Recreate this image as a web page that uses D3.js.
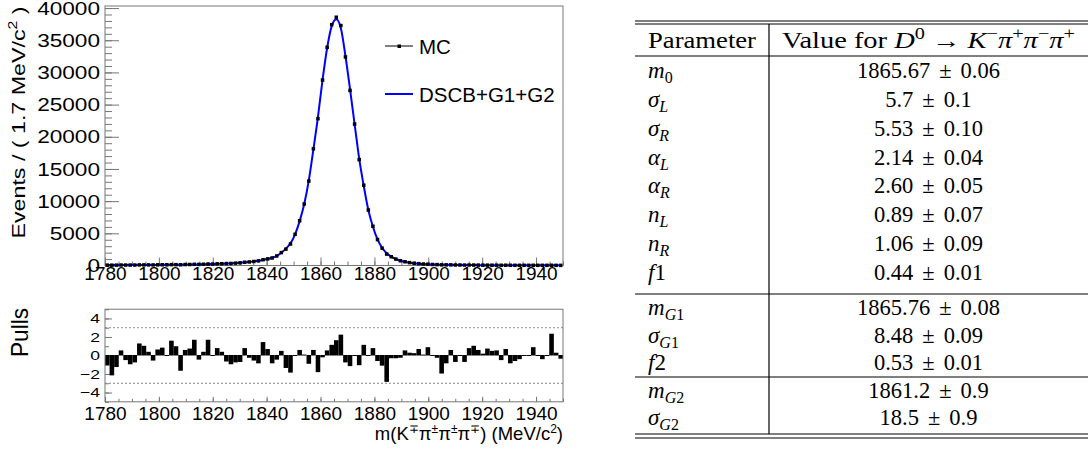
<!DOCTYPE html>
<html>
<head>
<meta charset="utf-8">
<script src="https://cdn.jsdelivr.net/npm/d3@7"></script>
<style>
body { margin: 0; background: #fff; }
svg { display: block; }
.ax text { font-family: "Liberation Sans", Arial, sans-serif; fill: #000; }
.ax line { stroke: #777; }
.ax .domain { display: none; }
.lbl { font-family: "Liberation Sans", Arial, sans-serif; fill: #000; }
.tbl text { font-family: "Liberation Serif", "Times New Roman", serif; fill: #000; }
</style>
</head>
<body>
<svg id="fig" width="1090" height="450"></svg>
<script>
// 100 bins of 1.7 MeV between 1780 and 1950
const massRange = [1780, 1950];
const binWidth = 1.7;

// MC entries per bin
const mcCounts = [
  55, 48, 57, 75, 68, 67, 72, 94, 96, 94,
  88, 105, 113, 111, 133, 134, 112, 147, 159, 184,
  168, 196, 232, 227, 263, 282, 293, 322, 364, 414,
  508, 553, 625, 716, 902, 1022, 1169, 1481, 2002, 2548,
  3338, 4843, 6950, 9560, 13121, 18131, 22819, 28808, 33901, 37422,
  38573, 37282, 32406, 27201, 21973, 16458, 12478, 8625, 6092, 4029,
  2700, 1774, 1357, 999, 742, 583, 446, 350, 290, 230,
  202, 161, 136, 101, 100, 103, 80, 79, 66, 72,
  69, 60, 53, 54, 49, 47, 37, 43, 32, 31,
  30, 32, 30, 34, 28, 25, 26, 37, 25, 21
];

// fitted DSCB+G1+G2 value at each bin centre
const fitCurve = [
  64, 66, 68, 70, 73, 76, 79, 82, 86, 90,
  94, 99, 104, 110, 116, 123, 131, 140, 150, 162,
  175, 190, 208, 228, 250, 275, 305, 340, 380, 430,
  490, 560, 640, 740, 860, 1000, 1200, 1500, 1980, 2620,
  3450, 4850, 6900, 9550, 13230, 18050, 23100, 28850, 33800, 37200,
  38250, 36850, 32550, 27400, 21980, 16600, 12350, 8620, 6030, 4070,
  2760, 1900, 1370, 1010, 750, 570, 440, 345, 278, 228,
  190, 162, 140, 123, 109, 97, 87, 79, 72, 66,
  61, 56, 52, 49, 46, 43, 41, 39, 37, 35,
  33, 32, 30, 29, 28, 27, 26, 25, 24, 23
];

// pulls per bin
const pulls = [
  -1.1, -2.2, -1.3, 0.55, -0.55, -1.0, -0.8, 1.3, 1.05, 0.4,
  -0.6, 0.65, 0.85, 0.05, 1.6, 1.0, -1.7, 0.6, 0.75, 1.7,
  -0.5, 0.4, 1.7, -0.05, 0.8, 0.4, -0.7, -1.0, -0.8, -0.75,
  0.8, -0.3, -0.6, -0.9, 1.45, 0.7, -0.9, -0.5, 0.5, -1.4,
  -1.9, -0.1, 0.6, 0.1, -0.95, 0.6, -1.85, -0.25, 0.55, 1.15,
  1.65, 2.25, -0.8, -1.2, -0.05, -1.1, 1.15, 0.05, 0.8, -0.65,
  -1.15, -2.9, -0.35, -0.35, -0.3, 0.55, 0.3, 0.25, 0.7, 0.1,
  0.9, -0.1, -0.3, -2.0, -0.9, 0.6, -0.75, 0.05, -0.75, 0.8,
  1.05, 0.6, 0.2, 0.75, 0.5, 0.55, -0.55, 0.7, -0.9, -0.65,
  -0.45, 0.05, 0.05, 0.9, 0.05, -0.45, 0.05, 2.35, 0.3, -0.4
];

const xTicks = [1780, 1800, 1820, 1840, 1860, 1880, 1900, 1920, 1940];
const yTicks = [0, 5000, 10000, 15000, 20000, 25000, 30000, 35000, 40000];
const pullTicks = [-4, -2, 0, 2, 4];
const pullBands = [-3, 3];

// table of fit parameters
const paramSymbols = ["m", "σ", "σ", "α", "α", "n", "n", "f", "m", "σ", "f", "m", "σ"];
const paramSubs    = ["0", "L", "R", "L", "R", "L", "R", "", "G1", "G1", "", "G2", "G2"];
const paramSuffix  = ["", "", "", "", "", "", "", "1", "", "", "2", "", ""];
const paramValues  = ["1865.67", "5.7", "5.53", "2.14", "2.60", "0.89", "1.06", "0.44",
                      "1865.76", "8.48", "0.53", "1861.2", "18.5"];
const paramErrors  = ["0.06", "0.1", "0.10", "0.04", "0.05", "0.07", "0.09", "0.01",
                      "0.08", "0.09", "0.01", "0.9", "0.9"];
const paramGroups  = [8, 3, 2];

const svg = d3.select("#fig");

function stretch(sel, f) {
  sel.each(function () {
    const w = this.getComputedTextLength();
    d3.select(this).attr("textLength", w * f).attr("lengthAdjust", "spacingAndGlyphs");
  });
}

// ---------- main panel ----------
const fr = { left: 105, right: 563, top: 6, bottom: 265.5 };
const x = d3.scaleLinear().domain(massRange).range([fr.left, fr.right]);
const y = d3.scaleLinear().domain([0, 40320]).range([fr.bottom, fr.top]);
const centres = mcCounts.map((_d, i) => massRange[0] + binWidth * (i + 0.5));

// minor ticks
svg.append("g").attr("class", "ax")
  .attr("transform", `translate(${fr.left},0)`)
  .call(d3.axisLeft(y).tickValues(d3.range(0, 40001, 1000)).tickSize(-7).tickFormat(""));
svg.append("g").attr("class", "ax")
  .attr("transform", `translate(0,${fr.bottom})`)
  .call(d3.axisBottom(x).tickValues(d3.range(1780, 1951, 5)).tickSize(-4).tickFormat(""));

const gy = svg.append("g").attr("class", "ax")
  .attr("transform", `translate(${fr.left},0)`)
  .call(d3.axisLeft(y).tickValues(yTicks).tickSize(-14).tickPadding(5).tickFormat(d3.format("d")));
gy.selectAll("text").style("font-size", "19px");
stretch(gy.selectAll("text"), 1.19);

const gx = svg.append("g").attr("class", "ax")
  .attr("transform", `translate(0,${fr.bottom})`)
  .call(d3.axisBottom(x).tickValues(xTicks).tickSize(-8).tickPadding(1).tickFormat(d3.format("d")));
gx.selectAll("text").style("font-size", "19px");

svg.append("rect")
  .attr("x", fr.left).attr("y", fr.top)
  .attr("width", fr.right - fr.left).attr("height", fr.bottom - fr.top)
  .attr("fill", "none").attr("stroke", "#777").attr("stroke-width", 1);

// fit curve
svg.append("path")
  .datum(fitCurve)
  .attr("fill", "none")
  .attr("stroke", "#0000ff")
  .attr("stroke-width", 2)
  .attr("d", d3.line().x((_d, i) => x(centres[i])).y(d => y(d)).curve(d3.curveMonotoneX));

// MC points
svg.append("g").selectAll("rect")
  .data(mcCounts)
  .join("rect")
  .attr("x", (_d, i) => x(centres[i]) - 1.75)
  .attr("y", d => y(d) - 1.75)
  .attr("width", 3.5).attr("height", 3.5)
  .attr("fill", "#000");

// y title
const yt = svg.append("text").attr("class", "lbl")
  .attr("transform", "translate(25,122.5) rotate(-90)")
  .attr("text-anchor", "middle")
  .style("font-size", "19px");
yt.append("tspan").text("Events / ( 1.7 MeV/c");
yt.append("tspan").attr("dy", -8).style("font-size", "13px").text("2");
yt.append("tspan").attr("dy", 8).text(" )");
yt.attr("textLength", 232).attr("lengthAdjust", "spacingAndGlyphs");

// legend
const leg = svg.append("g");
leg.append("line").attr("x1", 385).attr("x2", 413).attr("y1", 46).attr("y2", 46)
  .attr("stroke", "#000").attr("stroke-width", 1);
leg.append("rect").attr("x", 397.5).attr("y", 44.5).attr("width", 3.5).attr("height", 3.5).attr("fill", "#000");
leg.append("text").attr("class", "lbl").attr("x", 419).attr("y", 53.5)
  .style("font-size", "20.5px").text("MC");
leg.append("line").attr("x1", 385).attr("x2", 413).attr("y1", 94).attr("y2", 94)
  .attr("stroke", "#0000ff").attr("stroke-width", 2);
leg.append("text").attr("class", "lbl").attr("x", 419).attr("y", 101.5)
  .style("font-size", "20.5px").text("DSCB+G1+G2");

// ---------- pull panel ----------
const pf = { top: 309.2, bottom: 401.8 };
const yP = d3.scaleLinear().domain([-5, 5]).range([pf.bottom, pf.top]);

svg.append("g").attr("class", "ax")
  .attr("transform", `translate(${fr.left},0)`)
  .call(d3.axisLeft(yP).tickValues(d3.range(-5, 5.01, 1)).tickSize(-4).tickFormat(""));
svg.append("g").attr("class", "ax")
  .attr("transform", `translate(0,${pf.bottom})`)
  .call(d3.axisBottom(x).tickValues(d3.range(1780, 1951, 5)).tickSize(-3).tickFormat(""));

const gpy = svg.append("g").attr("class", "ax")
  .attr("transform", `translate(${fr.left},0)`)
  .call(d3.axisLeft(yP).tickValues(pullTicks).tickSize(-7).tickPadding(5));
gpy.selectAll("text").style("font-size", "13px");
stretch(gpy.selectAll("text"), 1.35);

const gpx = svg.append("g").attr("class", "ax")
  .attr("transform", `translate(0,${pf.bottom})`)
  .call(d3.axisBottom(x).tickValues(xTicks).tickSize(-5).tickPadding(5).tickFormat(d3.format("d")));
gpx.selectAll("text").style("font-size", "19px");

svg.append("g").selectAll("line")
  .data(pullBands)
  .join("line")
  .attr("x1", fr.left).attr("x2", fr.right)
  .attr("y1", d => yP(d)).attr("y2", d => yP(d))
  .attr("stroke", "#888").attr("stroke-width", 1).attr("stroke-dasharray", "2,2");

svg.append("g").selectAll("rect")
  .data(pulls)
  .join("rect")
  .attr("x", (_d, i) => x(massRange[0] + binWidth * i))
  .attr("width", x(massRange[0] + binWidth) - x(massRange[0]))
  .attr("y", d => Math.min(yP(Math.max(0, d)), yP(0) - 0.5))
  .attr("height", d => Math.max(1, Math.abs(yP(d) - yP(0))))
  .attr("fill", "#000");

svg.append("rect")
  .attr("x", fr.left).attr("y", pf.top)
  .attr("width", fr.right - fr.left).attr("height", pf.bottom - pf.top)
  .attr("fill", "none").attr("stroke", "#777").attr("stroke-width", 1);

svg.append("text").attr("class", "lbl")
  .attr("transform", "translate(28,332.5) rotate(-90)")
  .attr("text-anchor", "middle")
  .style("font-size", "24px")
  .attr("textLength", 49).attr("lengthAdjust", "spacingAndGlyphs")
  .text("Pulls");

// x title
const xt = svg.append("text").attr("class", "lbl")
  .attr("x", fr.right).attr("y", 440)
  .attr("text-anchor", "end")
  .style("font-size", "18.5px");
const sup = (t, s) => {
  t.append("tspan").attr("dy", -7).style("font-size", "12px").text(s);
};
xt.append("tspan").text("m(K");
sup(xt, "∓");
xt.append("tspan").attr("dy", 7).text("π");
sup(xt, "±");
xt.append("tspan").attr("dy", 7).text("π");
sup(xt, "±");
xt.append("tspan").attr("dy", 7).text("π");
sup(xt, "∓");
xt.append("tspan").attr("dy", 7).text(") (MeV/c");
sup(xt, "2");
xt.append("tspan").attr("dy", 7).text(")");

// ---------- table ----------
const tbl = svg.append("g").attr("class", "tbl");
const tL = 635, tR = 1088, tDiv = 769;
const colC = (tDiv + tR) / 2;
const rule = yy => tbl.append("line").attr("x1", tL).attr("x2", tR).attr("y1", yy).attr("y2", yy)
  .attr("stroke", "#000").attr("stroke-width", 1.2);
[21, 24, 56, 294, 377, 434, 438].forEach(rule);
tbl.append("line").attr("x1", tDiv).attr("x2", tDiv).attr("y1", 24).attr("y2", 434)
  .attr("stroke", "#000").attr("stroke-width", 1.2);

tbl.append("text").attr("x", 648).attr("y", 47.5).style("font-size", "22.5px")
  .attr("textLength", 108).attr("lengthAdjust", "spacingAndGlyphs").text("Parameter");

const hd = tbl.append("text").attr("x", colC).attr("y", 47.5)
  .attr("text-anchor", "middle").style("font-size", "22.5px");
hd.append("tspan").text("Value for ");
hd.append("tspan").style("font-style", "italic").text("D");
hd.append("tspan").attr("dy", -9).style("font-size", "16px").text("0");
hd.append("tspan").attr("dy", 9).text(" → ");
const hsup = [["K", "−"], ["π", "+"], ["π", "−"], ["π", "+"]];
hsup.forEach(([b, s], k) => {
  hd.append("tspan").attr("dy", k === 0 ? 0 : 9).style("font-style", "italic").text(b);
  hd.append("tspan").attr("dy", -9).style("font-size", "16px").text(s);
});
hd.attr("textLength", 293).attr("lengthAdjust", "spacingAndGlyphs");

// row baselines
const groupStart = [78, 315, 398], groupStep = [28.85, 27.5, 27];
const baselines = [];
paramGroups.forEach((n, g) => { for (let k = 0; k < n; k++) baselines.push(groupStart[g] + k * groupStep[g]); });

paramSymbols.forEach((s, i) => {
  const t = tbl.append("text").attr("x", 648).attr("y", baselines[i]).style("font-size", "23px");
  t.append("tspan").style("font-style", "italic").text(s);
  if (paramSuffix[i]) t.append("tspan").text(paramSuffix[i]);
  if (paramSubs[i]) {
    const chars = paramSubs[i].split("");
    chars.forEach((c, k) => {
      t.append("tspan").attr("dy", k === 0 ? 5 : 0).style("font-size", "16px")
        .style("font-style", /[0-9]/.test(c) ? "normal" : "italic").text(c);
    });
  }
  const v = tbl.append("text").attr("x", colC).attr("y", baselines[i])
    .attr("text-anchor", "middle").style("font-size", "22.5px");
  v.append("tspan").text(paramValues[i]);
  v.append("tspan").attr("dx", 9).text("±");
  v.append("tspan").attr("dx", 9).text(paramErrors[i]);
});
</script>
</body>
</html>
